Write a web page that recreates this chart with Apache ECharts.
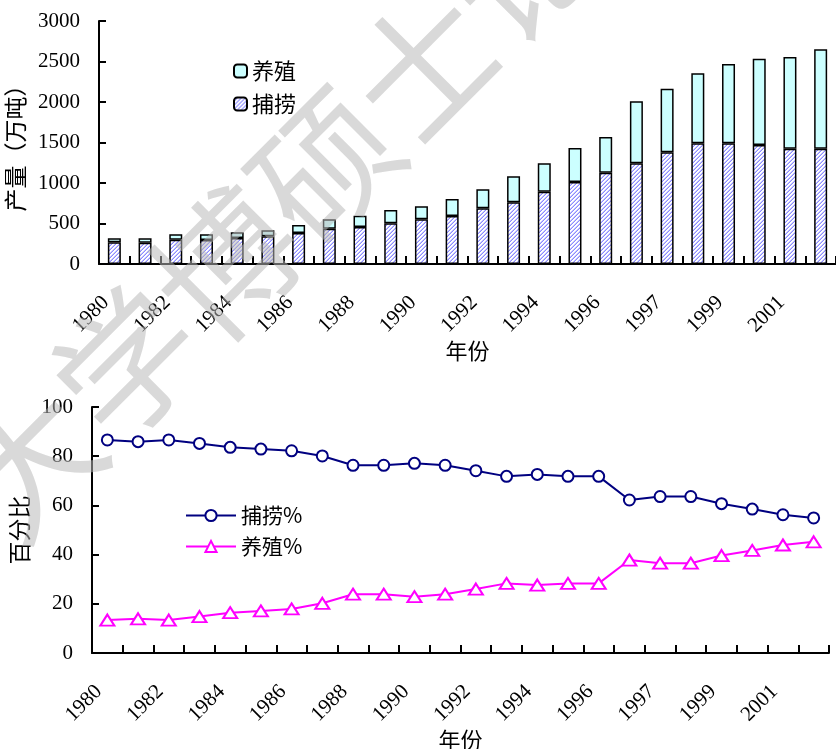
<!DOCTYPE html>
<html>
<head>
<meta charset="utf-8">
<script src="https://cdn.jsdelivr.net/npm/echarts@6/dist/echarts.min.js"></script>
<style>
  html, body { margin: 0; padding: 0; background: #fff; }
  #main { width: 836px; height: 749px; }
</style>
</head>
<body>
<div id="main"></div>
<script>
// 年份 (24 categories), labels shown on every other one
const years = ['1980', '1981', '1982', '1983', '1984', '1985', '1986', '1987', '1988', '1989', '1990', '1991',
    '1992', '1993', '1994', '1995', '1996', '1997', '1998', '1999', '2000', '2001', '2002', '2003'];
const tickLabels = ['1980', '1982', '1984', '1986', '1988', '1990', '1992', '1994', '1996', '1997', '1999', '2001'];

// 产量 (万吨)
const capture = [268, 263, 300, 296, 321, 342, 383, 436, 457, 502, 552, 593,
    688, 762, 893, 1013, 1128, 1243, 1379, 1490, 1490, 1470, 1424, 1424];
const culture = [49, 54, 67, 71, 70, 74, 99, 116, 140, 165, 160, 210,
    234, 321, 350, 420, 440, 766, 786, 865, 980, 1065, 1132, 1227];

// 百分比
const capturePct = [86.6, 85.9, 86.6, 85.2, 83.6, 82.9, 82.2, 80.1, 76.3, 76.3, 77.1, 76.3,
    74.1, 71.8, 72.6, 71.8, 71.8, 62.2, 63.6, 63.6, 60.7, 58.5, 56.2, 54.9];
const culturePct = [13.4, 13.9, 13.4, 14.8, 16.4, 17.1, 17.9, 20.2, 23.9, 23.9, 22.9, 23.9,
    26.0, 28.3, 27.6, 28.3, 28.3, 37.8, 36.5, 36.5, 39.6, 41.7, 43.9, 45.2];

// hatched fill for 捕捞 bars
function makeHatch() {
    const c = document.createElement('canvas');
    c.width = 4;
    c.height = 4;
    const ctx = c.getContext('2d');
    ctx.fillStyle = '#ffffff';
    ctx.fillRect(0, 0, 4, 4);
    ctx.fillStyle = '#8c8cff';
    ctx.fillRect(3, 0, 1, 1);
    ctx.fillRect(2, 1, 1, 1);
    ctx.fillRect(1, 2, 1, 1);
    ctx.fillRect(0, 3, 1, 1);
    ctx.fillStyle = '#c4c4ff';
    ctx.fillRect(2, 0, 1, 1);
    ctx.fillRect(1, 1, 1, 1);
    ctx.fillRect(0, 2, 1, 1);
    ctx.fillRect(3, 3, 1, 1);
    return c;
}

const serif = '"Liberation Serif", "DejaVu Serif", serif';
const cjk = '"Noto Sans CJK SC", sans-serif';

const chart = echarts.init(document.getElementById('main'), null, { renderer: 'canvas' });

function xAxisFor(gridIndex, nameGap) {
    return {
        type: 'category',
        gridIndex: gridIndex,
        data: years,
        boundaryGap: true,
        name: '年份',
        nameLocation: 'middle',
        nameGap: nameGap,
        nameTextStyle: { fontFamily: cjk, fontSize: 22, color: '#000' },
        axisLine: { lineStyle: { color: '#000', width: 2 } },
        axisTick: { show: true, inside: true, length: 8, interval: 0, lineStyle: { color: '#000', width: 2 } },
        axisLabel: {
            interval: 1,
            rotate: 45,
            margin: 27,
            formatter: function (v, i) {
                const t = tickLabels[i / 2];
                return t ? '{y|' + t + '}' : '';
            },
            rich: {
                y: { fontFamily: serif, fontSize: 21, color: '#000', padding: [0, 12, 0, 0] }
            }
        },
        splitLine: { show: false }
    };
}

function yAxisFor(gridIndex, max, interval, name, nameGap) {
    return {
        type: 'value',
        gridIndex: gridIndex,
        min: 0,
        max: max,
        interval: interval,
        name: name,
        nameLocation: 'middle',
        nameRotate: 90,
        nameGap: nameGap,
        nameTextStyle: { fontFamily: cjk, fontSize: 23, color: '#000' },
        axisLine: { show: true, lineStyle: { color: '#000', width: 2 } },
        axisTick: { show: true, inside: true, length: 7, lineStyle: { color: '#000', width: 2 } },
        axisLabel: {
            margin: 19,
            fontFamily: serif,
            fontSize: 21,
            color: '#000',
            formatter: function (v) { return String(v); }
        },
        splitLine: { show: false }
    };
}

const option = {
    animation: false,
    backgroundColor: '#fff',
    textStyle: { fontFamily: cjk },
    grid: [
        { left: 99, top: 21, width: 737, height: 243, outerBoundsMode: 'none' },
        { left: 92, top: 407, width: 737, height: 246, outerBoundsMode: 'none' }
    ],
    xAxis: [xAxisFor(0, 76), xAxisFor(1, 70)],
    yAxis: [
        yAxisFor(0, 3000, 500, '产量（万吨）', 71),
        yAxisFor(1, 100, 20, '百分比', 55)
    ],
    legend: [
        {
            data: ['养殖', '捕捞'],
            orient: 'vertical',
            left: 228,
            top: 55,
            itemWidth: 13,
            itemHeight: 13,
            itemGap: 11,
            textStyle: { fontFamily: cjk, fontSize: 22, color: '#000' }
        },
        {
            data: ['捕捞%', '养殖%'],
            orient: 'vertical',
            left: 180,
            top: 500,
            itemWidth: 50,
            itemHeight: 14,
            itemGap: 10,
            textStyle: { fontFamily: cjk, fontSize: 21, color: '#000' }
        }
    ],
    series: [
        {
            name: '捕捞',
            type: 'bar',
            stack: 'total',
            xAxisIndex: 0,
            yAxisIndex: 0,
            barWidth: 13,
            data: capture,
            itemStyle: {
                color: { image: makeHatch(), repeat: 'repeat' },
                borderColor: '#000',
                borderWidth: 1.5
            }
        },
        {
            name: '养殖',
            type: 'bar',
            stack: 'total',
            xAxisIndex: 0,
            yAxisIndex: 0,
            barWidth: 13,
            data: culture,
            itemStyle: { color: '#ccffff', borderColor: '#000', borderWidth: 1.5 }
        },
        {
            name: '捕捞%',
            type: 'line',
            xAxisIndex: 1,
            yAxisIndex: 1,
            data: capturePct,
            symbol: 'circle',
            symbolSize: 11,
            lineStyle: { color: '#000080', width: 2 },
            itemStyle: { color: '#fff', borderColor: '#000080', borderWidth: 2 }
        },
        {
            name: '养殖%',
            type: 'line',
            xAxisIndex: 1,
            yAxisIndex: 1,
            data: culturePct,
            symbol: 'triangle',
            symbolSize: [14, 11],
            lineStyle: { color: '#ff00ff', width: 2 },
            itemStyle: { color: '#fff', borderColor: '#ff00ff', borderWidth: 2 }
        }
    ],
    graphic: [
        {
            type: 'text',
            x: 325,
            y: 165,
            rotation: Math.PI / 4,
            z: 100,
            silent: true,
            style: {
                text: '大学博硕士论文',
                font: '140px "Noto Sans CJK SC"',
                fill: 'rgba(183,183,183,0.53)',
                align: 'center',
                verticalAlign: 'middle'
            }
        }
    ]
};

chart.setOption(option);
</script>
</body>
</html>
